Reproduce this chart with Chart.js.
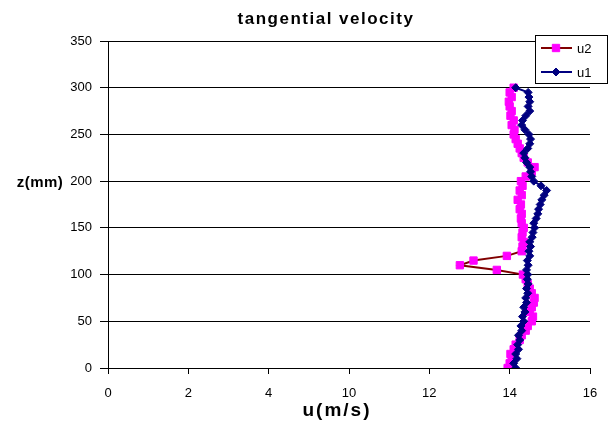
<!DOCTYPE html>
<html>
<head>
<meta charset="utf-8">
<script src="https://cdn.jsdelivr.net/npm/chart.js@4.4.1/dist/chart.umd.min.js"></script>
<style>
  html, body { margin: 0; padding: 0; background: #fff; }
  #wrap { width: 611px; height: 428px; position: relative; }
</style>
</head>
<body>
<div id="wrap"><canvas id="grafico" width="611" height="428"></canvas></div>
<script>
// -------- DADOS --------
const zValues = [0, 5, 10, 15, 20, 25, 30, 35, 40, 45, 50, 55, 60, 65, 70, 75, 80, 85, 90, 95,
  100, 105, 110, 115, 120, 125, 130, 135, 140, 145, 150, 155, 160, 165, 170, 175, 180, 185, 190, 195,
  200, 205, 210, 215, 220, 225, 230, 235, 240, 245, 250, 255, 260, 265, 270, 275, 280, 285, 290, 295, 300];

const u1Values = [14.15, 14.1, 14.18, 14.15, 14.22, 14.2, 14.25, 14.22, 14.3, 14.28,
  14.35, 14.32, 14.38, 14.35, 14.42, 14.4, 14.45, 14.42, 14.46, 14.44,
  14.45, 14.42, 14.46, 14.44, 14.5, 14.48, 14.52, 14.5, 14.56, 14.58,
  14.62, 14.6, 14.66, 14.7, 14.72, 14.76, 14.8, 14.86, 14.92, 14.78,
  14.6, 14.55, 14.52, 14.5, 14.42, 14.38, 14.35, 14.45, 14.5, 14.52,
  14.48, 14.38, 14.3, 14.32, 14.4, 14.5, 14.46, 14.5, 14.48, 14.46, 14.15];

const u2Values = [13.95, 14.0, 14.05, 14.02, 14.1, 14.15, 14.25, 14.3, 14.4, 14.45,
  14.55, 14.58, 14.5, 14.55, 14.6, 14.62, 14.55, 14.5, 14.45, 14.4,
  14.33, 13.68, 12.76, 13.1, 13.93, 14.3, 14.32, 14.35, 14.3, 14.32,
  14.35, 14.3, 14.28, 14.3, 14.25, 14.28, 14.2, 14.3, 14.25, 14.32,
  14.28, 14.4, 14.55, 14.62, 14.45, 14.35, 14.3, 14.25, 14.2, 14.15,
  14.1, 14.12, 14.05, 14.1, 14.02, 14.05, 14.0, 13.98, 14.05, 14.0, 14.1];

// eixo x: posições reais e os rótulos que aparecem na figura
const xTickValues = [4, 6, 8, 10, 12, 14, 16];
const xTickLabels = ["0", "2", "4", "10", "12", "14", "16"];

const tituloGrafico = "tangential velocity";
const tituloX = "u(m/s)";
const tituloY = "z(mm)";

// -------- SERIES --------
const series = [
  { label: "u2", values: u2Values, line: "#800000", fill: "#ff00ff", style: "rect", radius: 5.2, order: 1 },
  { label: "u1", values: u1Values, line: "#000080", fill: "#000080", style: "rectRot", radius: 4, order: 0 }
];

function montaPontos(vals) {
  return vals.map((u, i) => ({ x: u, y: zValues[i] }));
}

const FONTE = "Arial, 'Liberation Sans', sans-serif";

// -------- PLUGIN: titulos e legenda --------
const extras = {
  id: "extras",
  afterDraw(chart) {
    const c = chart.ctx;
    c.save();
    c.fillStyle = "#000";
    c.textAlign = "center";
    c.textBaseline = "middle";
    c.letterSpacing = "1.5px";
    c.font = "bold 17px " + FONTE;
    c.fillText(tituloGrafico, 326, 19);
    c.letterSpacing = "2px";
    c.font = "bold 19px " + FONTE;
    c.fillText(tituloX, 337, 411);
    c.letterSpacing = "0.5px";
    c.font = "bold 15px " + FONTE;
    c.fillText(tituloY, 40, 183);
    c.letterSpacing = "0px";

    // legenda
    c.fillStyle = "#fff";
    c.fillRect(535, 35, 73, 48);
    c.strokeStyle = "#000";
    c.lineWidth = 1;
    c.strokeRect(535.5, 35.5, 72, 48);
    series.forEach((s, i) => {
      const y = 48 + i * 24;
      c.strokeStyle = s.line;
      c.lineWidth = 2;
      c.beginPath();
      c.moveTo(541, y);
      c.lineTo(572, y);
      c.stroke();
      c.fillStyle = s.fill;
      c.strokeStyle = s.fill;
      c.lineWidth = 1;
      Chart.helpers.drawPoint(c, { pointStyle: s.style, radius: s.radius, borderWidth: 1, rotation: 0 }, 556, y);
      c.fillStyle = "#000";
      c.textAlign = "left";
      c.font = "13px " + FONTE;
      c.fillText(s.label, 577, y + 1);
    });
    c.restore();
  }
};

// -------- CHART --------
const ctx = document.getElementById("grafico").getContext("2d");
const chart = new Chart(ctx, {
  type: "scatter",
  data: {
    datasets: series.map((s) => ({
      label: s.label,
      data: montaPontos(s.values),
      showLine: true,
      borderColor: s.line,
      borderWidth: 2,
      pointStyle: s.style,
      pointRadius: s.radius,
      pointBackgroundColor: s.fill,
      pointBorderColor: s.fill,
      pointBorderWidth: 1,
      order: s.order
    }))
  },
  options: {
    responsive: false,
    animation: false,
    layout: { padding: { top: 41, right: 21, left: 0, bottom: 0 } },
    plugins: {
      legend: { display: false },
      title: { display: false },
      tooltip: { enabled: false }
    },
    scales: {
      x: {
        type: "linear",
        min: 4,
        max: 16,
        afterBuildTicks: (scale) => {
          scale.ticks = xTickValues.map((v) => ({ value: v }));
        },
        afterFit: (scale) => { scale.height = 60; },
        ticks: {
          color: "#000",
          font: { family: FONTE, size: 13 },
          padding: 12,
          maxRotation: 0,
          callback: (v) => {
            const i = xTickValues.indexOf(v);
            return i >= 0 ? xTickLabels[i] : "";
          }
        },
        grid: { drawOnChartArea: false, drawTicks: true, tickLength: 6, color: "#000" },
        border: { display: true, color: "#000", width: 1 }
      },
      y: {
        type: "linear",
        min: 0,
        max: 350,
        afterFit: (scale) => { scale.width = 108; },
        ticks: {
          stepSize: 50,
          color: "#000",
          font: { family: FONTE, size: 13 },
          padding: 8
        },
        grid: { color: "#000", lineWidth: 1, drawTicks: true, tickLength: 8 },
        border: { display: true, color: "#000", width: 1 }
      }
    }
  },
  plugins: [extras]
});
</script>
</body>
</html>
